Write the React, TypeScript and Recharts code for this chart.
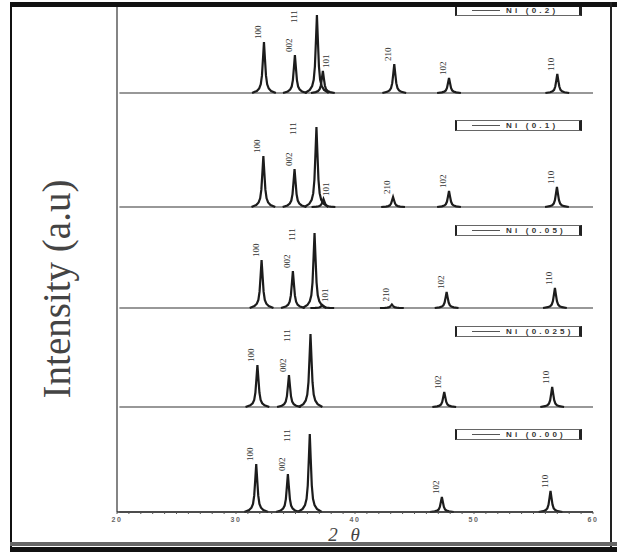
import { ComposedChart, Line, XAxis, YAxis } from 'recharts';

// samples, top to bottom
const sampleNames = ['Ni (0.2)', 'Ni (0.1)', 'Ni (0.05)', 'Ni (0.025)', 'Ni (0.00)'];

const hklDoped = ['100', '002', '111', '101', '210', '102', '110'];
const hklPure = ['100', '002', '111', '102', '110'];

// peak position (2θ) and height (a.u.)
const posNi020 = [32.35, 34.95, 36.8, 37.3, 43.3, 47.9, 57.0];
const intNi020 = [51, 38, 78, 22, 29, 15, 19];

const posNi010 = [32.3, 34.92, 36.76, 37.35, 43.2, 47.9, 56.97];
const intNi010 = [51, 38, 80, 8, 10, 16, 20];

const posNi005 = [32.15, 34.78, 36.6, 37.25, 43.1, 47.7, 56.8];
const intNi005 = [48, 37, 75, 3, 3.5, 16, 20];

const posNi0025 = [31.8, 34.45, 36.26, 47.5, 56.57];
const intNi0025 = [42, 32, 73, 15, 20];

const posNi000 = [31.7, 34.36, 36.2, 47.3, 56.43];
const intNi000 = [48, 38, 78, 15, 21];

// vertical stacking of the traces
const stackOffsets = [419, 305, 204, 105, 0];

// 2θ scan range
const scanRange = [20.2, 60];

// shape of one reflection: 2θ offset from the peak and fraction of its height
const peakShapeDx = [-1.0, -0.6, -0.4, -0.27, -0.17, -0.08, 0, 0.08, 0.17, 0.27, 0.4, 0.6, 1.0];
const peakShapeRatio = [0, 0.04, 0.09, 0.17, 0.34, 0.68, 1, 0.68, 0.34, 0.17, 0.09, 0.04, 0];

const axisTicks = Array.from({ length: 41 }, (_, i) => 20 + i);

const samples = [
  { name: sampleNames[0], hkl: hklDoped, pos: posNi020, int: intNi020, offset: stackOffsets[0] },
  { name: sampleNames[1], hkl: hklDoped, pos: posNi010, int: intNi010, offset: stackOffsets[1] },
  { name: sampleNames[2], hkl: hklDoped, pos: posNi005, int: intNi005, offset: stackOffsets[2] },
  { name: sampleNames[3], hkl: hklPure, pos: posNi0025, int: intNi0025, offset: stackOffsets[3] },
  { name: sampleNames[4], hkl: hklPure, pos: posNi000, int: intNi000, offset: stackOffsets[4] },
];

const legendTops = [5, 120, 225, 326, 429];

const INK = '#1c1c1c';

function peakPoints(pos: number, height: number, offset: number) {
  return peakShapeDx.map((d, i) => ({ x: pos + d, y: offset + height * peakShapeRatio[i] }));
}

function hklLabel(hkl: string, top: number) {
  return (props: any) => {
    const { x, y, value } = props;
    if (value !== top) return <g />;
    let dx = -6;
    let dy = -3;
    if (hkl === '111') {
      dx = -23;
      dy = 8;
    } else if (hkl === '101') {
      dx = 3;
    }
    const tx = x + dx;
    const ty = y + dy;
    return (
      <text
        x={tx}
        y={ty}
        transform={`rotate(-90, ${tx}, ${ty})`}
        dominantBaseline="central"
        fontFamily="'Liberation Serif', serif"
        fontSize={9}
        fill="#333"
      >
        {hkl}
      </text>
    );
  };
}

function renderTick(props: any) {
  const { x, y, payload } = props;
  if (payload.value % 10 !== 0) return <g />;
  return (
    <text x={x} y={y + 6} textAnchor="middle" fontFamily="'Liberation Sans', sans-serif" fontWeight="bold" fontSize={7} letterSpacing={1.5} fill="#666">
      {payload.value}
    </text>
  );
}

export default function App() {
  return (
    <div style={{ position: 'absolute', left: 0, top: 0, width: 617, height: 552, background: '#fff', overflow: 'hidden' }}>
      <ComposedChart width={617} height={552} margin={{ top: 6, right: 24, bottom: 0, left: 0 }}>
        <XAxis
          type="number"
          dataKey="x"
          domain={[20, 60]}
          ticks={axisTicks}
          interval={0}
          height={40}
          tick={renderTick}
          tickSize={2}
          tickLine={{ stroke: '#555' }}
          axisLine={{ stroke: '#333', strokeWidth: 1.5 }}
          label={() => (
            <text x={346} y={541} textAnchor="middle" fontFamily="'Liberation Serif', serif" fontStyle="italic" fontSize={19} letterSpacing={4} fill="#444">
              2 θ
            </text>
          )}
        />
        <YAxis
          type="number"
          domain={[0, 506]}
          width={117}
          tick={false}
          tickLine={false}
          axisLine={{ stroke: '#333', strokeWidth: 1.2 }}
          label={() => (
            <text x={70} y={289} transform="rotate(-90, 70, 289)" textAnchor="middle" fontFamily="'Liberation Serif', serif" fontSize={39} fill="#444">
              Intensity (a.u)
            </text>
          )}
        />
        {samples.map((s) => (
          <Line
            key={'base-' + s.name}
            data={[{ x: scanRange[0], y: s.offset }, { x: scanRange[1], y: s.offset }]}
            dataKey="y"
            type="linear"
            stroke="#333"
            strokeWidth={1.2}
            dot={false}
            activeDot={false}
            isAnimationActive={false}
          />
        ))}
        {samples.flatMap((s) =>
          s.pos.map((p, i) => (
            <Line
              key={s.name + '-' + s.hkl[i]}
              data={peakPoints(p, s.int[i], s.offset)}
              dataKey="y"
              type="linear"
              stroke={INK}
              strokeWidth={2.2}
              dot={false}
              activeDot={false}
              isAnimationActive={false}
              label={hklLabel(s.hkl[i], s.offset + s.int[i])}
            />
          ))
        )}
      </ComposedChart>

      {samples.map((s, i) => (
        <div
          key={'legend-' + s.name}
          style={{
            position: 'absolute',
            left: 455,
            top: legendTops[i],
            width: 122,
            height: 9,
            borderTop: '1px solid #666',
            borderBottom: '1px solid #666',
            borderLeft: '2px solid #222',
            borderRight: '3px solid #222',
            display: 'flex',
            alignItems: 'center',
            background: '#fff',
          }}
        >
          <span style={{ display: 'inline-block', width: 28, height: 1, background: '#555', marginLeft: 15, marginRight: 6 }} />
          <span style={{ fontFamily: "'Liberation Sans', sans-serif", fontWeight: 'bold', fontSize: 8, letterSpacing: 3.2, color: '#333', whiteSpace: 'nowrap' }}>
            {s.name}
          </span>
        </div>
      ))}

      {/* scanned page frame */}
      <div style={{ position: 'absolute', left: 10, top: 2, width: 607, height: 5, background: '#111' }} />
      <div style={{ position: 'absolute', left: 10, top: 2, width: 2, height: 550, background: '#111' }} />
      <div style={{ position: 'absolute', left: 610, top: 2, width: 2, height: 548, background: '#222' }} />
      <div style={{ position: 'absolute', left: 10, top: 542, width: 607, height: 4, background: '#666' }} />
      <div style={{ position: 'absolute', left: 10, top: 547, width: 607, height: 5, background: '#111' }} />
    </div>
  );
}
